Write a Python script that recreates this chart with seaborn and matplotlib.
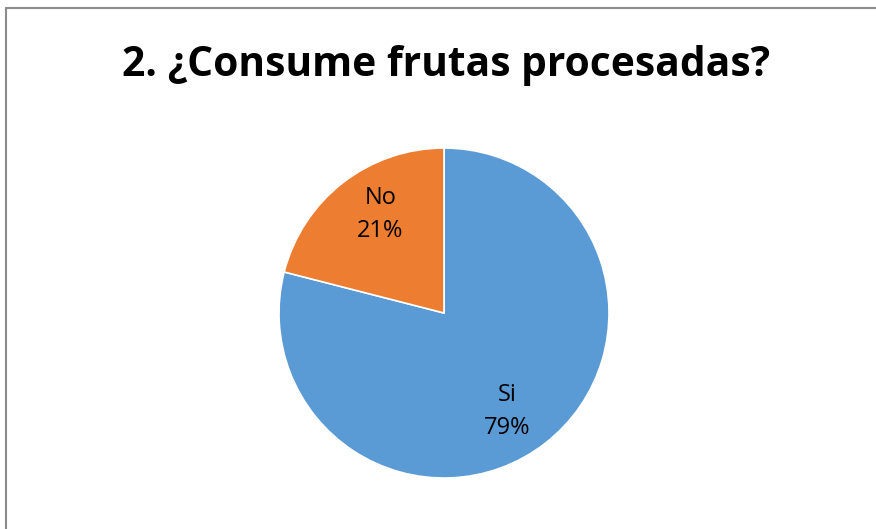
import matplotlib
matplotlib.use("Agg")
import matplotlib.pyplot as plt
from matplotlib.lines import Line2D
import numpy as np
import seaborn as sns

# Survey answers for question 2
categories = ["Si", "No"]
shares = [79, 21]
title_text = "2. ¿Consume frutas procesadas?"

sns.set_theme(style="white")
plt.rcParams["font.family"] = ["Open Sans", "DejaVu Sans"]
colors = sns.color_palette(["#5B9BD5", "#ED7D31"])

fig = plt.figure(figsize=(8.76, 5.29), dpi=100)
fig.patch.set_facecolor("white")

# Chart frame (top and left edges visible)
frame_kw = dict(color="#8c8c8c", linewidth=1.5, transform=fig.transFigure)
x0 = 5.5 / 876
y0 = 1 - 7.5 / 529
fig.add_artist(Line2D([x0, x0], [0, y0], **frame_kw))
fig.add_artist(Line2D([x0, 1], [y0, y0], **frame_kw))

ax = fig.add_axes([0.3185, 0.0964, 0.3767, 0.6238])
labels_iter = iter(categories)
wedges, texts, autotexts = ax.pie(
    shares,
    colors=colors,
    startangle=90,
    counterclock=False,
    autopct=lambda p: f"{next(labels_iter)}\n{p:.0f}%",
    pctdistance=0.71,
    wedgeprops=dict(edgecolor="white", linewidth=1.2),
    textprops=dict(fontsize=17, color="black", linespacing=1.45),
)

# Shift each label a few degrees clockwise around the centre
rot = np.deg2rad(-5)
for t in autotexts:
    x, y = t.get_position()
    t.set_position((x * np.cos(rot) - y * np.sin(rot),
                    x * np.sin(rot) + y * np.cos(rot)))

ax.set_aspect("equal")
ax.set_xlim(-1.0, 1.0)
ax.set_ylim(-1.0, 1.0)

fig.text(0.509, 1 - 65 / 529, title_text, ha="center", va="center",
         fontsize=29.3, fontweight="bold", color="black")

fig.savefig("out.png", dpi=100, facecolor="white")
